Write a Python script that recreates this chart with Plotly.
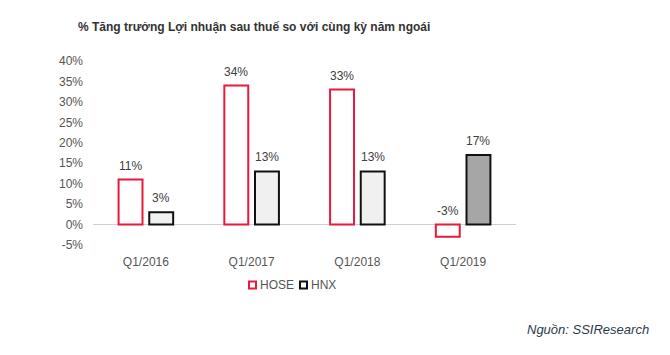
import plotly.graph_objects as go

categories = ["Q1/2016", "Q1/2017", "Q1/2018", "Q1/2019"]
hose = [11, 34, 33, -3]
hnx = [3, 13, 13, 17]
hnx_fill = ["#f0f0f0", "#f0f0f0", "#f0f0f0", "#a6a6a6"]
y_ticks = [-5, 0, 5, 10, 15, 20, 25, 30, 35, 40]

font_family = "Liberation Sans, Arial, sans-serif"
label_color = "#404040"
hose_color = "#e8193c"
hnx_color = "#111111"

# figure is placed with an 8px page margin, so size it to fit the window
W, H = 662, 347
L, T = 85, 53
PW, PH = 423, 184.5
R, B = W - L - PW, H - T - PH


def px(x):
    return (x - 8 - L) / PW


def py(y):
    return (T + PH - (y - 8)) / PH


fig = go.Figure()
fig.add_trace(go.Bar(
    name="HOSE", x=categories, y=hose,
    marker=dict(color="white", line=dict(color=hose_color, width=2)),
    hoverinfo="skip",
))
fig.add_trace(go.Bar(
    name="HNX", x=categories, y=hnx,
    marker=dict(color=hnx_fill, line=dict(color=hnx_color, width=2)),
    hoverinfo="skip",
))

annotations = []
for i, c in enumerate(categories):
    for vals, off in ((hose, -0.145), (hnx, 0.145)):
        v = vals[i]
        annotations.append(dict(
            x=i + off, y=max(v, 0), xref="x", yref="y",
            text=f"{v}%", showarrow=False, yanchor="bottom", yshift=5,
            font=dict(size=12, color=label_color, family=font_family),
        ))

annotations.append(dict(
    x=px(651), y=py(330), xref="paper", yref="paper",
    text="<i>Nguồn: SSIResearch</i>",
    showarrow=False, xanchor="right", yanchor="middle",
    font=dict(size=13, color="#2b3a4a", family=font_family),
))

# legend drawn manually (small squares + labels)
shapes = []
legend_items = [("HOSE", hose_color, "white", 249, 258), ("HNX", hnx_color, "white", 300, 309)]
for name, lc, fc, mx, tx in legend_items:
    shapes.append(dict(
        type="rect", xref="paper", yref="paper",
        x0=px(mx), x1=px(mx + 7), y0=py(289), y1=py(282),
        line=dict(color=lc, width=2), fillcolor=fc,
    ))
    annotations.append(dict(
        x=px(tx), y=py(286), xref="paper", yref="paper", text=name,
        showarrow=False, xanchor="left", yanchor="middle",
        font=dict(size=12, color="#555555", family=font_family),
    ))

fig.update_layout(
    width=W, height=H,
    margin=dict(l=L, r=R, t=T, b=B),
    paper_bgcolor="white", plot_bgcolor="white",
    barmode="group", bargap=0.42, bargroupgap=0.22,
    title=dict(
        text="<b>% Tăng trưởng Lợi nhuận sau thuế so với cùng kỳ năm ngoái</b>",
        x=(78 - 8) / W, xanchor="left", y=1 - (27 - 8) / H, yanchor="middle",
        font=dict(size=12, color="#333333", family=font_family),
    ),
    xaxis=dict(
        showline=False, showgrid=False, ticks="", ticklabelstandoff=8,
        tickfont=dict(size=12, color="#555555", family=font_family),
        range=[-0.5, 3.5],
    ),
    yaxis=dict(
        range=[-5, 40], tickvals=y_ticks, ticktext=[f"{t}%" for t in y_ticks],
        showgrid=False, showline=False, zeroline=True, zerolinecolor="#d0d0d0",
        zerolinewidth=1, ticks="", ticklabelstandoff=9,
        tickfont=dict(size=12, color="#555555", family=font_family),
    ),
    showlegend=False,
    annotations=annotations,
    shapes=shapes,
)

fig.write_html("out.html")
